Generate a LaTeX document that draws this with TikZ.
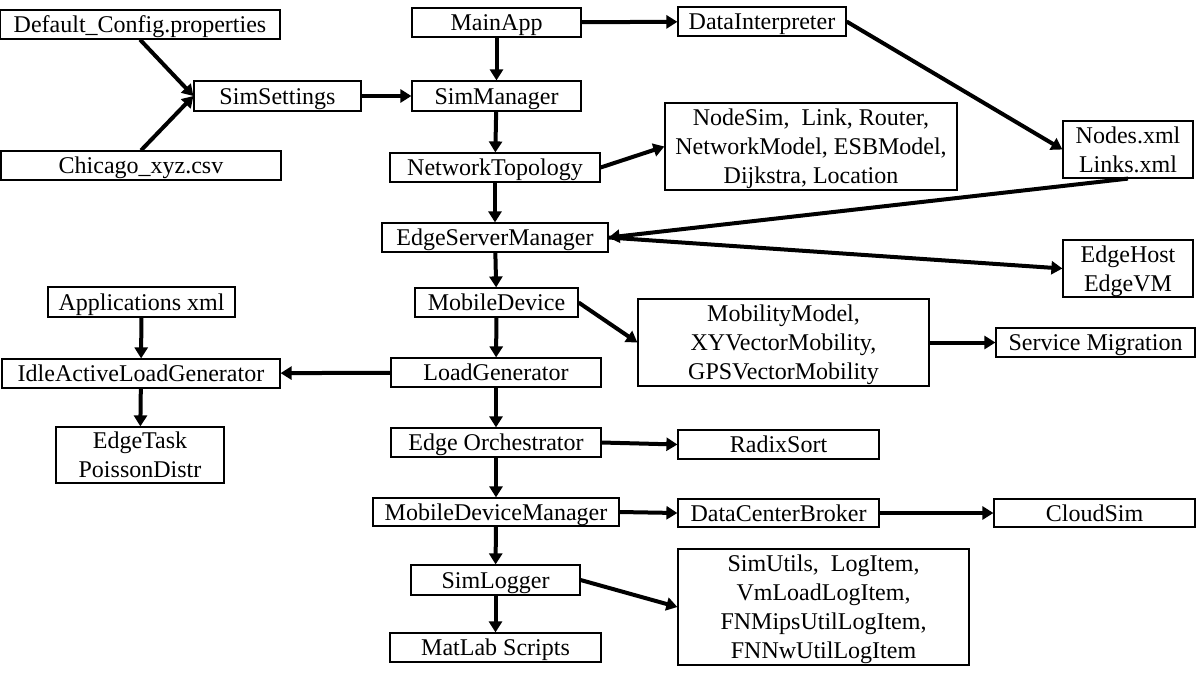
\documentclass[tikz,border=0pt]{standalone}
\usepackage{fontspec}
\setmainfont{Liberation Serif}
\usetikzlibrary{arrows.meta}
\tikzset{
  box/.style 2 args={draw, line width=1.2pt, inner sep=0pt, align=center,
    font=\fontsize{24}{29}\selectfont, minimum width=#1pt, minimum height=#2pt,
    text height=19pt, text depth=2.6pt},
  two/.style={text height=48pt},
  three/.style={text height=77pt},
  four/.style={text height=106pt},
  arr/.style={line width=4pt, -{Triangle[length=11pt,width=13pt]}}
}
\begin{document}
\begin{tikzpicture}[x=1pt,y=-1pt]
\useasboundingbox[fill=white] (0,0) rectangle (1196,681);
% left column
\node[box={280}{29}] (dc) at (140,24.5) {Default\_Config.properties};
\node[box={167}{30}] (ss) at (277.5,96) {SimSettings};
\node[box={280}{29}] (ch) at (141,165.5) {Chicago\_xyz.csv};
\node[box={187}{30}] (ax) at (141.5,302) {Applications xml};
\node[box={278}{29}] (ialg) at (141,373.5) {IdleActiveLoadGenerator};
\node[box={168}{56},two] (et) at (140,455) {EdgeTask\\PoissonDistr};
% main column
\node[box={169}{29}] (ma) at (496.5,22.5) {MainApp};
\node[box={169}{30}] (sm) at (496.5,96) {SimManager};
\node[box={210}{29}] (nt) at (495,167.5) {NetworkTopology};
\node[box={226}{29}] (esm) at (495,237.5) {EdgeServerManager};
\node[box={163}{29}] (md) at (496.5,302.5) {MobileDevice};
\node[box={210}{29}] (lg) at (496,372.5) {LoadGenerator};
\node[box={210}{29}] (eo) at (496,442.5) {Edge Orchestrator};
\node[box={246}{28}] (mdm) at (496,512) {MobileDeviceManager};
\node[box={169}{30}] (sl) at (495.5,580) {SimLogger};
\node[box={211}{29}] (mls) at (495.5,647.5) {MatLab Scripts};
% right side
\node[box={168}{29}] (di) at (762,21.5) {DataInterpreter};
\node[box={292}{87},three] (ns) at (811,146.5) {NodeSim,~ Link, Router,\\NetworkModel, ESBModel,\\Dijkstra, Location};
\node[box={130}{57},two] (nx) at (1128,149.5) {Nodes.xml\\Links.xml};
\node[box={130}{57},two] (eh) at (1128,268.5) {EdgeHost\\EdgeVM};
\node[box={291}{87},three] (mm) at (783.5,342.5) {MobilityModel,\\XYVectorMobility,\\GPSVectorMobility};
\node[box={199}{29}] (smig) at (1095.5,342.5) {Service Migration};
\node[box={201}{29}] (rs) at (778.5,444.5) {RadixSort};
\node[box={201}{28}] (dcb) at (778.5,513) {DataCenterBroker};
\node[box={201}{28}] (cs) at (1094.5,513) {CloudSim};
\node[box={291}{116},four] (su) at (823.5,607) {SimUtils,~ LogItem,\\VmLoadLogItem,\\FNMipsUtilLogItem,\\FNNwUtilLogItem};
% connectors
\draw[arr] (dc.south) -- (ss.west);
\draw[arr] (ch.north) -- (ss.west);
\draw[arr] (ss) -- (sm);
\draw[arr] (ma) -- (sm);
\draw[arr] (ma) -- (di);
\draw[arr] (di.east) -- (nx.west);
\draw[arr] (sm) -- (nt);
\draw[arr] (nt.east) -- (ns.west);
\draw[arr] (nt) -- (esm);
\draw[arr] (nx.south) -- (esm.east);
\draw[arr] (esm.east) -- (eh.west);
\draw[arr] (esm) -- (md);
\draw[arr] (md.east) -- (mm.west);
\draw[arr] (mm) -- (smig);
\draw[arr] (md) -- (lg);
\draw[arr] (lg) -- (ialg);
\draw[arr] (ax) -- (ialg);
\draw[arr] (ialg) -- (et);
\draw[arr] (lg) -- (eo);
\draw[arr] (eo.east) -- (rs.west);
\draw[arr] (eo) -- (mdm);
\draw[arr] (mdm.east) -- (dcb.west);
\draw[arr] (dcb) -- (cs);
\draw[arr] (mdm) -- (sl);
\draw[arr] (sl.east) -- (su.west);
\draw[arr] (sl) -- (mls);
\end{tikzpicture}
\end{document}
